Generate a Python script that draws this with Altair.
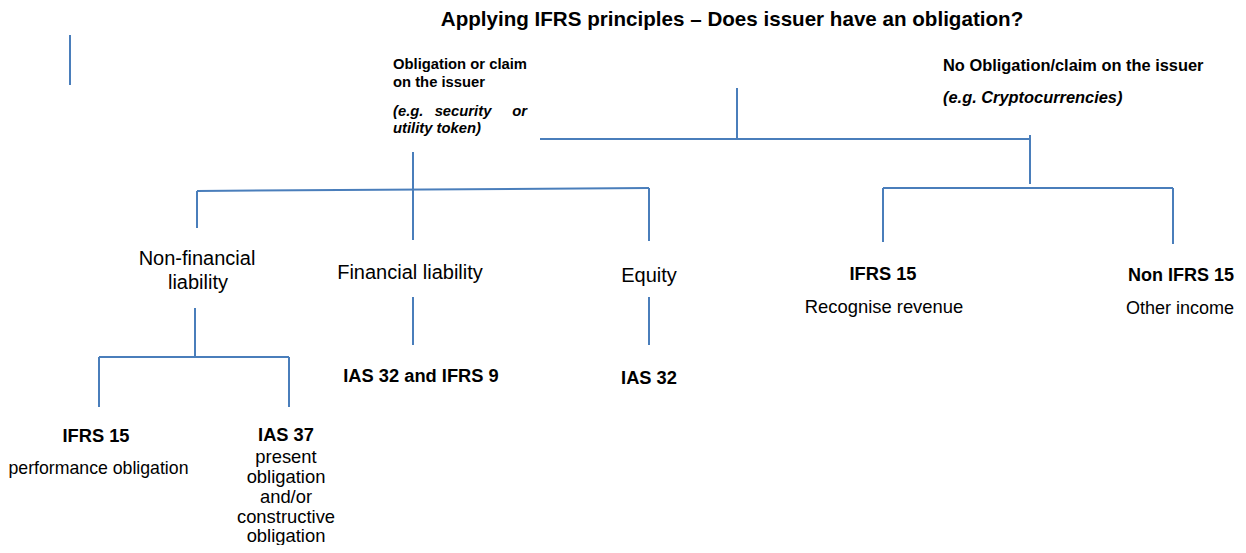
import altair as alt
import pandas as pd

# connector segments (image pixel coordinates)
seg_x1 = [70, 737, 540, 1030, 883, 883, 1173, 413, 197, 197, 649, 413, 649, 195, 99, 99, 289]
seg_y1 = [35, 88, 139, 135, 188, 188, 188, 152, 191, 191, 188, 297, 297, 308, 357, 357, 357]
seg_x2 = [70, 737, 1030, 1030, 1173, 883, 1173, 413, 649, 197, 649, 413, 649, 195, 289, 99, 289]
seg_y2 = [85, 139, 139, 184, 188, 242, 244, 240, 188, 228, 241, 345, 345, 357, 357, 407, 407]

# text groups: (texts, x, y)
title_text = ["Applying IFRS principles – Does issuer have an obligation?"]
title_x = [732]
title_y = [19.5]

small_bold_text = ["Obligation or claim", "on the issuer"]
small_bold_x = [393, 393]
small_bold_y = [65, 83]

right_bold_text = ["No Obligation/claim on the issuer"]
right_bold_x = [943]
right_bold_y = [66]

right_ital_text = ["(e.g. Cryptocurrencies)"]
right_ital_x = [943]
right_ital_y = [98]

small_ital_left_text = ["(e.g.", "utility token)"]
small_ital_left_x = [393, 393]
small_ital_left_y = [112, 129]

small_ital_center_text = ["security"]
small_ital_center_x = [463]
small_ital_center_y = [112]

small_ital_right_text = ["or"]
small_ital_right_x = [527]
small_ital_right_y = [112]

big_center_text = ["Non-financial", "liability", "Financial liability", "Equity"]
big_center_x = [197, 198, 410, 649]
big_center_y = [259, 283, 273, 276]

norm_center_text = ["Recognise revenue", "performance obligation",
                    "present", "obligation", "and/or", "constructive", "obligation"]
norm_center_x = [884, 98.5, 286, 286, 286, 286, 286]
norm_center_y = [307, 469, 457, 477, 497, 517, 536]
norm_center_size = [18.4, 17.7, 18.4, 18.4, 18.4, 18.4, 18.4]

bold_center_text = ["IFRS 15", "IAS 32 and IFRS 9", "IAS 32", "IFRS 15", "IAS 37"]
bold_center_x = [883, 421, 649, 96, 286]
bold_center_y = [275, 377, 379, 437, 436]

norm_left_text = ["Other income"]
norm_left_x = [1126]
norm_left_y = [309]

bold_left_text = ["Non IFRS 15"]
bold_left_x = [1128]
bold_left_y = [276]

W, H = 1230, 537
xs = alt.Scale(domain=[8, 8 + W], range=[0, W], nice=False, zero=False)
ys = alt.Scale(domain=[8, 8 + H], range=[0, H], nice=False, zero=False)

FONT = "Liberation Sans"

segs = pd.DataFrame({"x1": seg_x1, "y1": seg_y1, "x2": seg_x2, "y2": seg_y2})
lines = alt.Chart(segs).mark_rule(color="#4a7ebb", strokeWidth=2).encode(
    x=alt.X("x1:Q", scale=xs, axis=None),
    y=alt.Y("y1:Q", scale=ys, axis=None),
    x2="x2:Q",
    y2="y2:Q",
)


def txt(texts, x, y, size, weight="normal", style="normal", align="center"):
    df = pd.DataFrame({"x": x, "y": y, "t": texts})
    enc = dict(
        x=alt.X("x:Q", scale=xs, axis=None),
        y=alt.Y("y:Q", scale=ys, axis=None),
        text="t:N",
    )
    kw = dict(font=FONT, fontWeight=weight, fontStyle=style,
              align=align, baseline="middle", color="#000000")
    if isinstance(size, list):
        df["s"] = size
        enc["size"] = alt.Size("s:Q", scale=None, legend=None)
    else:
        kw["fontSize"] = size
    return alt.Chart(df).mark_text(**kw).encode(**enc)


layers = [
    lines,
    txt(title_text, title_x, title_y, 20.6, "bold"),
    txt(small_bold_text, small_bold_x, small_bold_y, 14.8, "bold", align="left"),
    txt(right_bold_text, right_bold_x, right_bold_y, 16.4, "bold", align="left"),
    txt(right_ital_text, right_ital_x, right_ital_y, 16.4, "bold", "italic", "left"),
    txt(small_ital_left_text, small_ital_left_x, small_ital_left_y, 14.8, "bold", "italic", "left"),
    txt(small_ital_center_text, small_ital_center_x, small_ital_center_y, 14.8, "bold", "italic", "center"),
    txt(small_ital_right_text, small_ital_right_x, small_ital_right_y, 14.8, "bold", "italic", "right"),
    txt(big_center_text, big_center_x, big_center_y, 20),
    txt(norm_center_text, norm_center_x, norm_center_y, norm_center_size),
    txt(bold_center_text, bold_center_x, bold_center_y, 18.3, "bold"),
    txt(norm_left_text, norm_left_x, norm_left_y, 18.0, align="left"),
    txt(bold_left_text, bold_left_x, bold_left_y, 18.0, "bold", align="left"),
]

chart = alt.layer(*layers).properties(
    width=W, height=H, padding=0, autosize=alt.AutoSizeParams(type="none")
).configure_view(stroke="transparent", strokeWidth=0)

chart.save("out.html", embed_options={"renderer": "svg", "actions": False})
